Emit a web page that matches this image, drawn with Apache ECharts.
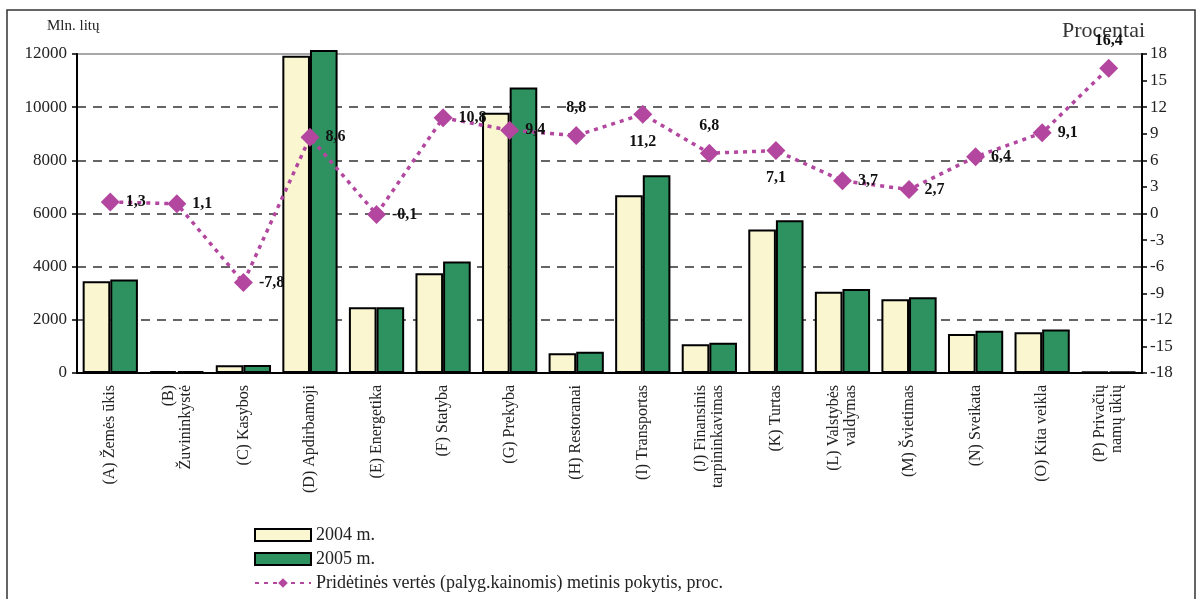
<!DOCTYPE html>
<html>
<head>
<meta charset="utf-8">
<script src="https://cdn.jsdelivr.net/npm/echarts@6/dist/echarts.min.js"></script>
<style>
html,body{margin:0;padding:0;background:#fff;}
#c{width:1196px;height:599px;}
</style>
</head>
<body>
<div id="c"></div>
<script>
const categories = [
  "(A) Žemės ūkis", "(B)\nŽuvininkystė", "(C) Kasybos", "(D) Apdirbamoji",
  "(E) Energetika", "(F) Statyba", "(G) Prekyba", "(H) Restoranai",
  "(I) Transportas", "(J) Finansinis\ntarpininkavimas", "(K) Turtas",
  "(L) Valstybės\nvaldymas", "(M) Švietimas", "(N) Sveikata",
  "(O) Kita veikla", "(P) Privačių\nnamų ūkių"
];
const values2004 = [3450, 70, 290, 11930, 2470, 3750, 9790, 740, 6690, 1080, 5400, 3060, 2770, 1470, 1530, 50];
const values2005 = [3520, 75, 300, 12150, 2470, 4190, 10740, 800, 7440, 1140, 5750, 3160, 2850, 1590, 1640, 60];
const changePct = [1.3, 1.1, -7.8, 8.6, -0.1, 10.8, 9.4, 8.8, 11.2, 6.8, 7.1, 3.7, 2.7, 6.4, 9.1, 16.4];
const seriesNames = ["2004 m.", "2005 m.", "Pridėtinės vertės (palyg.kainomis) metinis pokytis, proc."];
const leftTicks = {min: 0, max: 12000, interval: 2000};
const rightTicks = {min: -18, max: 18, interval: 3};

// label placement per point (style, not data)
const labelPlace = ["right","right","right","right","right","right","right","top","bottom","top","bottom","right","right","right","right","top"];

const serif = "'Liberation Serif', 'DejaVu Serif', serif";
const lineColor = "#b3479f";

const lineData = changePct.map((v, i) => ({
  value: v,
  label: { position: labelPlace[i], distance: labelPlace[i] === 'right' ? 6 : 10 }
}));

const chart = echarts.init(document.getElementById('c'));
chart.setOption({
  backgroundColor: '#fff',
  animation: false,
  grid: { left: 77, right: 54, top: 54, bottom: 226, show: true, borderColor: '#8a8a8a', borderWidth: 1.5 },
  graphic: [
    { type: 'rect', shape: { x: 7, y: 10, width: 1188, height: 600 }, style: { fill: 'none', stroke: '#333', lineWidth: 1.5 }, silent: true },
    { type: 'text', left: 47, top: 19, style: { text: 'Mln. litų', font: "15px " + serif, fill: '#222' } },
    { type: 'text', left: 1062, top: 20, style: { text: 'Procentai', font: "22px " + serif, fill: '#333' } }
  ],
  legend: {
    orient: 'vertical', left: 249, top: 521, itemWidth: 56, itemHeight: 12, itemGap: 6,
    textStyle: { fontFamily: serif, fontSize: 18, color: '#222' },
    data: [
      { name: seriesNames[0], icon: 'rect' },
      { name: seriesNames[1], icon: 'rect' },
      { name: seriesNames[2] }
    ]
  },
  xAxis: {
    type: 'category', data: categories,
    axisLine: { lineStyle: { color: '#000', width: 2 } },
    axisTick: { length: 5, lineStyle: { color: '#000', width: 1.5 } },
    axisLabel: { rotate: 90, margin: 12, fontFamily: serif, fontSize: 16, color: '#222', lineHeight: 17, interval: 0 }
  },
  yAxis: [
    {
      type: 'value', min: leftTicks.min, max: leftTicks.max, interval: leftTicks.interval,
      axisLine: { show: true, lineStyle: { color: '#000', width: 2 } },
      axisTick: { show: true, length: 5, lineStyle: { color: '#000', width: 1.5 } },
      axisLabel: { fontFamily: serif, fontSize: 17, color: '#222', margin: 10, formatter: v => String(v) },
      splitLine: { show: true, showMinLine: false, showMaxLine: false, lineStyle: { color: '#333', type: [9, 7], width: 1.5 } }
    },
    {
      type: 'value', min: rightTicks.min, max: rightTicks.max, interval: rightTicks.interval, position: 'right',
      axisLine: { show: true, lineStyle: { color: '#000', width: 2 } },
      axisTick: { show: true, length: 5, lineStyle: { color: '#000', width: 1.5 } },
      axisLabel: { fontFamily: serif, fontSize: 17, color: '#222', margin: 8 },
      splitLine: { show: false }
    }
  ],
  series: [
    {
      name: seriesNames[0], type: 'bar', data: values2004, barGap: '0%', barCategoryGap: '17%', clip: false,
      itemStyle: { color: '#faf6cf', borderColor: '#000', borderWidth: 2 }
    },
    {
      name: seriesNames[1], type: 'bar', data: values2005, barGap: '0%', barCategoryGap: '17%', clip: false,
      itemStyle: { color: '#2e9160', borderColor: '#000', borderWidth: 2 }
    },
    {
      name: seriesNames[2], type: 'line', yAxisIndex: 1, data: lineData, z: 5,
      symbol: 'diamond', symbolSize: 19,
      lineStyle: { color: lineColor, width: 3.5, type: [4, 5] },
      itemStyle: { color: lineColor },
      label: {
        show: true, fontFamily: serif, fontWeight: 'bold', fontSize: 16, color: '#111',
        formatter: p => String(p.value).replace('.', ',')
      }
    }
  ]
});
</script>
</body>
</html>
